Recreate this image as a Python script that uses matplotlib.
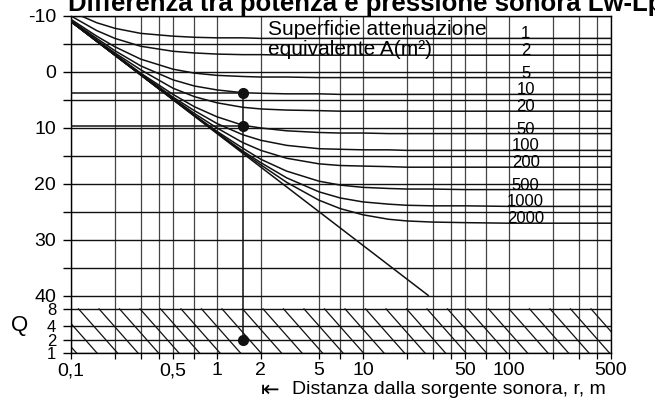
import matplotlib
matplotlib.use('Agg')
import matplotlib.pyplot as plt
import matplotlib.transforms as mtransforms
from matplotlib.ticker import NullLocator
import numpy as np

plt.rcParams['font.family'] = ['Liberation Sans', 'DejaVu Sans']

# distanza dalla sorgente r (m) dei punti
r = [0.1, 0.15, 0.2, 0.3, 0.5, 0.7, 1, 1.5, 2, 3, 5, 7, 10, 15, 20, 30, 50, 100, 500]

# Lw-Lp (dB) per ogni superficie di attenuazione equivalente A (m2)
lp_a1 = [-10.8, -8.8, -7.8, -6.9, -6.4, -6.2, -6.1, -6.1, -6.0, -6.0, -6.0, -6.0, -6.0, -6.0, -6.0, -6.0, -6.0, -6.0, -6.0]
lp_a2 = [-10.0, -7.4, -6.0, -4.6, -3.7, -3.4, -3.2, -3.1, -3.1, -3.0, -3.0, -3.0, -3.0, -3.0, -3.0, -3.0, -3.0, -3.0, -3.0]
lp_a5 = [-9.4, -6.4, -4.5, -2.3, -0.5, 0.2, 0.6, 0.8, 0.9, 0.9, 1.0, 1.0, 1.0, 1.0, 1.0, 1.0, 1.0, 1.0, 1.0]
lp_a10 = [-9.2, -6.0, -3.8, -1.1, 1.4, 2.5, 3.2, 3.7, 3.8, 3.9, 3.9, 4.0, 4.0, 4.0, 4.0, 4.0, 4.0, 4.0, 4.0]
lp_a20 = [-9.1, -5.7, -3.4, -0.4, 2.9, 4.4, 5.5, 6.3, 6.6, 6.8, 6.9, 7.0, 7.0, 7.0, 7.0, 7.0, 7.0, 7.0, 7.0]
lp_a50 = [-9.1, -5.6, -3.2, 0.2, 4.0, 6.2, 8.0, 9.5, 10.0, 10.5, 10.8, 10.9, 10.9, 11.0, 11.0, 11.0, 11.0, 11.0, 11.0]
lp_a100 = [-9.0, -5.5, -3.1, 0.3, 4.5, 6.9, 9.2, 11.2, 12.2, 13.1, 13.7, 13.8, 13.9, 13.9, 14.0, 14.0, 14.0, 14.0, 14.0]
lp_a200 = [-9.0, -5.5, -3.0, 0.4, 4.7, 7.4, 10.0, 12.6, 14.0, 15.4, 16.4, 16.7, 16.8, 16.9, 17.0, 17.0, 17.0, 17.0, 17.0]
lp_a500 = [-9.0, -5.5, -3.0, 0.5, 4.9, 7.7, 10.6, 13.6, 15.6, 17.7, 19.5, 20.2, 20.6, 20.8, 20.9, 20.9, 21.0, 21.0, 21.0]
lp_a1000 = [-9.0, -5.5, -3.0, 0.5, 4.9, 7.8, 10.8, 14.1, 16.2, 18.9, 21.4, 22.5, 23.2, 23.6, 23.8, 23.9, 23.9, 24.0, 24.0]
lp_a2000 = [-9.0, -5.5, -3.0, 0.5, 4.9, 7.8, 10.9, 14.3, 16.6, 19.7, 22.9, 24.4, 25.5, 26.3, 26.6, 26.8, 26.9, 27.0, 27.0]

superfici = ['1', '2', '5', '10', '20', '50', '100', '200', '500', '1000', '2000']
curve = [lp_a1, lp_a2, lp_a5, lp_a10, lp_a20, lp_a50, lp_a100, lp_a200, lp_a500, lp_a1000, lp_a2000]

# campo diretto (retta)
r_diretto = [0.1, 28]
lp_diretto = [-9.0, 39.9]

# esempio: r = 1,5 m
r_es = 1.5
lp_es = [3.8, 9.6]

# griglia e etichette asse x
griglia_r = [0.1, 0.2, 0.3, 0.4, 0.5, 0.7, 1, 2, 5, 7, 10, 20, 30, 40, 50, 70, 100, 200, 300, 400, 500]
etichette_r = {0.1: '0,1', 0.5: '0,5', 1: '1', 2: '2', 5: '5', 10: '10', 50: '50', 100: '100', 500: '500'}

# fattore di direttivita' Q e sua posizione nella fascia sotto il grafico
q_val = [8, 4, 2, 1]
q_pos = [42.3, 45.4, 47.9, 50.18]

fig = plt.figure(figsize=(6.55, 4.05), dpi=100)
ax = fig.add_axes([71/655, 1-353/405, 540/655, 337/405])
ax.set_xscale('log')
ax.set_xlim(0.1, 500)
ax.set_ylim(50.18, -10)

# griglia
for x in griglia_r:
    ax.axvline(x, color='#444444', lw=0.9, zorder=1)
for y in range(-10, 41, 5):
    ax.axhline(y, color='#111111', lw=1.0, zorder=1)
for y in q_pos:
    ax.axhline(y, color='#111111', lw=1.0, zorder=1)

# curve
for lp in curve:
    ax.plot(r, lp, color='#111111', lw=1.1, zorder=3)
ax.plot(r_diretto, lp_diretto, color='#111111', lw=1.1, zorder=3)

# etichette delle curve
for lab, lp in zip(superfici, curve):
    ax.text(130, lp[-1], lab, ha='center', va='baseline', fontsize=12, zorder=4)

# tratteggio nella fascia Q
trans = mtransforms.blended_transform_factory(ax.transAxes, ax.transData)
for x0 in np.arange(-0.1, 1.0, 20.5/540):
    ax.plot([x0, x0 + 39/540], [q_pos[0], q_pos[-1]], color='#111111', lw=0.9,
            transform=trans, zorder=2)

# esempio
ax.plot([0.1, r_es], [lp_es[0], lp_es[0]], color='#111111', lw=1.1, zorder=3)
ax.plot([0.1, r_es], [lp_es[1], lp_es[1]], color='#111111', lw=1.1, zorder=3)
ax.plot([r_es, r_es], [lp_es[0], q_pos[2]], color='#111111', lw=1.1, zorder=3)
ax.plot([r_es] * 3, lp_es + [q_pos[2]], 'o', color='#111111', ms=7, zorder=5)

# assi
ax.set_xticks(griglia_r)
ax.set_xticklabels([etichette_r.get(v, '') for v in griglia_r])
ax.xaxis.set_minor_locator(NullLocator())
ax.tick_params(axis='x', length=4.5, width=0.9, pad=2, labelsize=14)

yt = list(range(-10, 41, 5)) + q_pos
ylab = [str(v) if v % 10 == 0 else '' for v in range(-10, 41, 5)] + [str(q) for q in q_val]
ax.set_yticks(yt)
ax.set_yticklabels(ylab)
ax.tick_params(axis='y', length=5.8, width=1.0, pad=5, labelsize=14)
for t in ax.get_yticklabels()[-4:]:
    t.set_fontsize(12)
for s in ax.spines.values():
    s.set_linewidth(1.0)

fig.text(20/655, 1-326/405, 'Q', fontsize=16, ha='center', va='center')
fig.text(261/655, 1-390/405, '\u21e4', fontsize=16, ha='left', va='center')
fig.text(292/655, 1-394/405, 'Distanza dalla sorgente sonora, r, m',
         fontsize=14, ha='left', va='baseline')
fig.text(268/655, 1-35/405, 'Superficie attenuazione', fontsize=15, va='baseline')
fig.text(268/655, 1-55/405, 'equivalente A(m\u00b2)', fontsize=15, va='baseline')
fig.text(68/655, 1-10.5/405, 'Differenza tra potenza e pressione sonora Lw-Lp',
         fontsize=18.5, fontweight='bold', va='baseline')

fig.savefig('out.png', dpi=100)
